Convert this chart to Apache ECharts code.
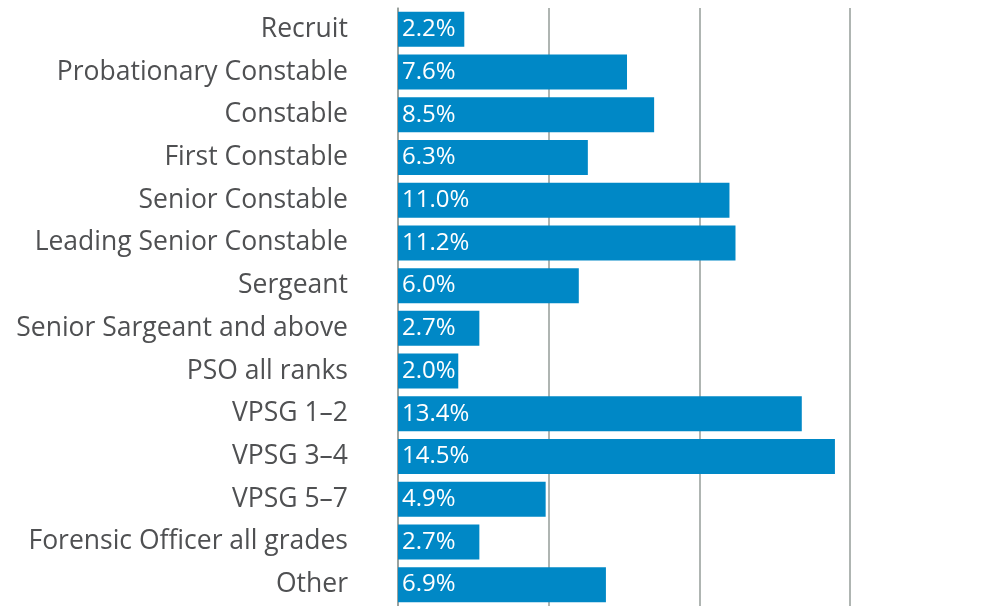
<!DOCTYPE html>
<html>
<head>
<meta charset="utf-8">
<script src="https://cdn.jsdelivr.net/npm/echarts@6/dist/echarts.min.js"></script>
<style>
  html, body { margin: 0; padding: 0; background: #fff; }
  #main { width: 990px; height: 606px; }
</style>
</head>
<body>
<div id="main"></div>
<script>
// categories, top to bottom
const categories = [
  'Recruit',
  'Probationary Constable',
  'Constable',
  'First Constable',
  'Senior Constable',
  'Leading Senior Constable',
  'Sergeant',
  'Senior Sargeant and above',
  'PSO all ranks',
  'VPSG 1–2',
  'VPSG 3–4',
  'VPSG 5–7',
  'Forensic Officer all grades',
  'Other'
]
// share (%)
const shares = [2.2, 7.6, 8.5, 6.3, 11.0, 11.2, 6.0, 2.7, 2.0, 13.4, 14.5, 4.9, 2.7, 6.9]

const chart = echarts.init(document.getElementById('main'))

const option = {
  animation: false,
  grid: {
    left: 398,
    right: 140,
    top: 8,
    bottom: -2,
    containLabel: false
  },
  xAxis: {
    type: 'value',
    min: 0,
    max: 15,
    interval: 5,
    axisLine: { show: false },
    axisTick: { show: false },
    axisLabel: { show: false },
    splitLine: { show: true, lineStyle: { color: '#959c98', width: 1.5 } }
  },
  yAxis: {
    type: 'category',
    inverse: true,
    data: categories,
    axisLine: { show: true, lineStyle: { color: '#959c98', width: 1.5 } },
    axisTick: { show: false },
    axisLabel: {
      color: '#4f5052',
      fontFamily: 'Open Sans',
      fontWeight: 500,
      fontSize: 26.5,
      margin: 50
    }
  },
  series: [
    {
      type: 'bar',
      data: shares,
      barWidth: 35,
      itemStyle: { color: '#0088c6' },
      label: {
        show: true,
        position: 'insideLeft',
        distance: 4,
        color: '#fff',
        fontFamily: 'Open Sans',
        fontWeight: 500,
        fontSize: 24,
        formatter: p => p.value.toFixed(1) + '%'
      }
    }
  ]
}

chart.setOption(option)
</script>
</body>
</html>
